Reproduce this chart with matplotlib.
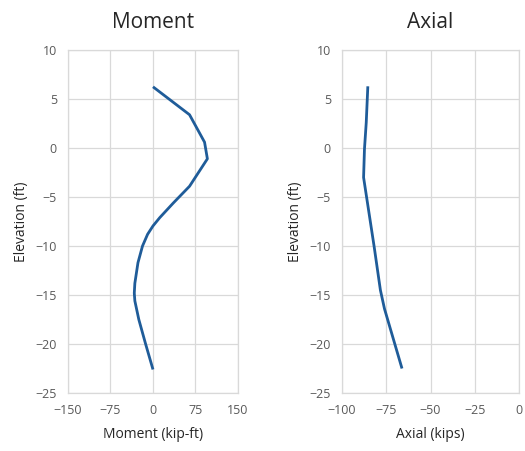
import matplotlib
matplotlib.use("Agg")
import matplotlib.pyplot as plt

# Moment diagram (kip-ft) vs elevation (ft)
moment_elev = [6.25, 3.4, 0.6, -1.1, -3.9, -5.6, -7.1, -7.95, -8.8, -10.0, -11.7, -13.8, -14.8, -15.6, -17.5, -20.0, -22.6]
moment_vals = [0, 64.5, 91, 96, 64.5, 36, 12, 0, -9.5, -18.5, -26.5, -32, -33, -32, -25, -13, 0]

# Axial force diagram (kips) vs elevation (ft)
axial_elev = [6.3, 2.6, -0.1, -3.0, -10.1, -14.5, -16.4, -22.5]
axial_vals = [-85.4, -86.3, -87.3, -87.8, -81.8, -78.3, -76.0, -66.1]

moment_ticks = [-150, -75, 0, 75, 150]
axial_ticks = [-100, -75, -50, -25, 0]
elev_ticks = [10, 5, 0, -5, -10, -15, -20, -25]

plt.rcParams['font.family'] = ['Open Sans', 'DejaVu Sans']

fig = plt.figure(figsize=(5.25, 4.51), dpi=100)
line_color = '#1F5C99'
grid_color = '#D9D9D9'
text_color = '#595959'

panels = [
    ([0.1295, 0.1286, 0.3238, 0.7604], moment_vals, moment_elev, moment_ticks, 'Moment', 'Moment (kip-ft)'),
    ([0.6514, 0.1286, 0.3372, 0.7604], axial_vals, axial_elev, axial_ticks, 'Axial', 'Axial (kips)'),
]

for rect, xs, ys, xticks, title, xlabel in panels:
    ax = fig.add_axes(rect)
    ax.plot(xs, ys, color=line_color, lw=2.0, solid_capstyle='butt', solid_joinstyle='round')
    ax.set_xlim(xticks[0], xticks[-1])
    ax.set_ylim(-25, 10)
    ax.set_xticks(xticks)
    ax.set_yticks(elev_ticks)
    ax.grid(True, color=grid_color, lw=0.9)
    ax.set_axisbelow(True)
    for s in ax.spines.values():
        s.set_color(grid_color)
        s.set_linewidth(0.9)
    ax.tick_params(length=0, labelsize=9, colors=text_color, pad=8)
    ax.set_xlabel(xlabel, fontsize=10, color='#262626', labelpad=7)
    ax.set_ylabel('Elevation (ft)', fontsize=10, color='#262626', labelpad=5)
    ax.set_title(title, fontsize=15, color='#262626', pad=16)

fig.savefig('out.png', dpi=100)
